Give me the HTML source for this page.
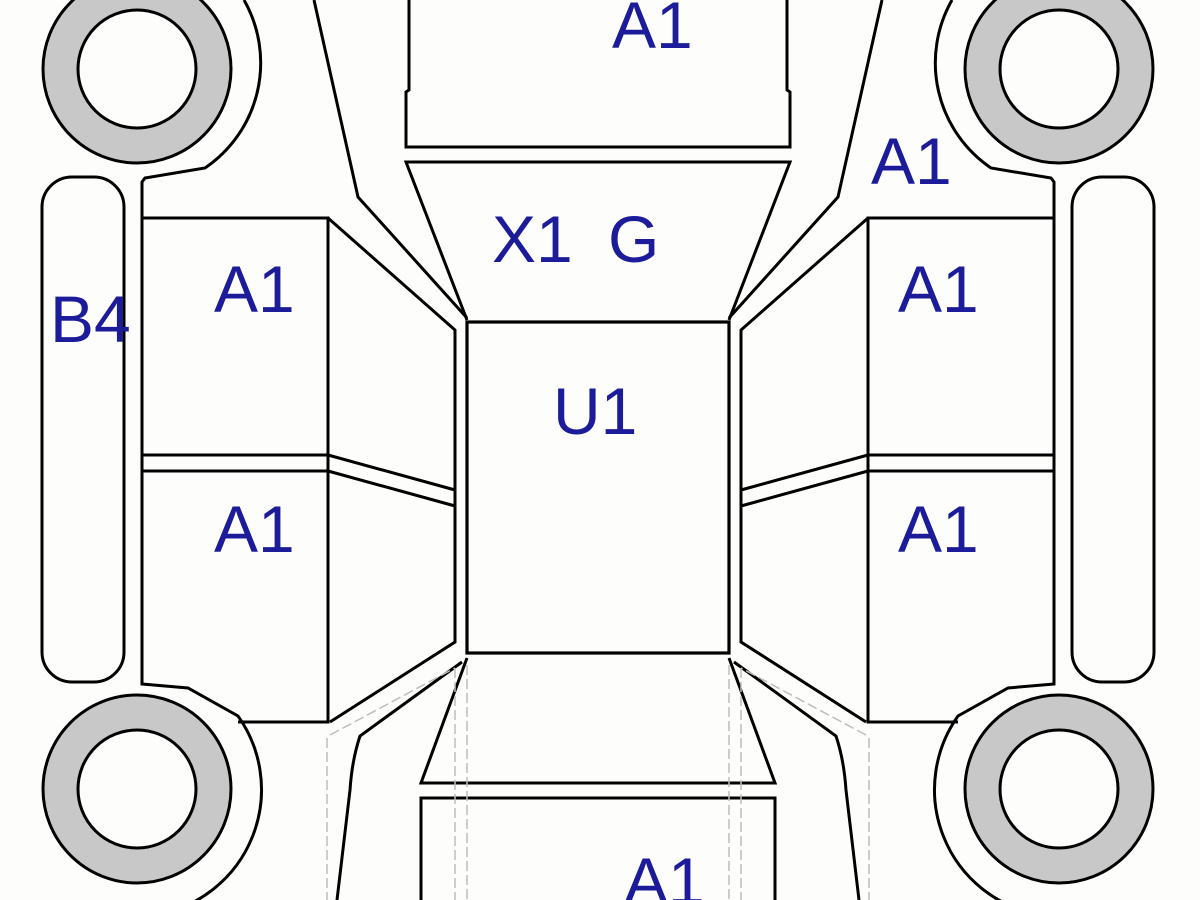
<!DOCTYPE html>
<html><head><meta charset="utf-8"><style>
html,body{margin:0;padding:0;background:#fdfefb;width:1200px;height:900px;overflow:hidden;}
svg{display:block}
text{font-family:"Liberation Sans",Arial,sans-serif;font-size:66px;fill:#1c1c9a;}
</style></head><body>
<svg width="1200" height="900" viewBox="0 0 1200 900" xmlns="http://www.w3.org/2000/svg">
<defs>
<g id="half" fill="none" stroke="#000" stroke-width="3">
  <circle cx="137" cy="69" r="76.5" stroke="#c8c8c8" stroke-width="35"/>
  <circle cx="137" cy="69" r="94"/>
  <circle cx="137" cy="69" r="59" fill="#fdfefb"/>
  <circle cx="137" cy="789" r="76.5" stroke="#c8c8c8" stroke-width="35"/>
  <circle cx="137" cy="789" r="94"/>
  <circle cx="137" cy="789" r="59" fill="#fdfefb"/>
  <path d="M244,0 A127,127 0 0 1 205,168 L145,178 L142,182 L142,684 L188,688 L238,716 A127,127 0 0 1 160,914"/>
  <rect x="42" y="177" width="82" height="505" rx="30"/>
  <path d="M142,218 L328,218 L328,722 L238,722"/>
  <path d="M142,455 L328,455 M142,471 L328,471"/>
  <path d="M328,218 L455,330 L455,642 L330,722"/>
  <path d="M328,455 L455,490 M328,471 L455,506"/>
  <path d="M314,0 L358,197 L467,318"/>
  <path d="M462,662 L360,736 Q352,760 350,790 L337,900"/>
  <path d="M467,658 L421,783 L598,783"/>
  <path d="M421,900 L421,798 L598,798"/>
  <path d="M409,0 L409,90 L406,92 L406,147 L598,147"/>
  <path d="M598,162 L406,162 L467,320"/>
  <g stroke="#bdbdbd" stroke-width="1.5" stroke-dasharray="10,4">
    <path d="M327,738 L327,900 M455,668 L455,900 M467,665 L467,900 M330,735 L455,668"/>
  </g>
</g>
</defs>
<use href="#half"/>
<use href="#half" transform="translate(1196,0) scale(-1,1)"/>
<rect x="467" y="322" width="262" height="331" fill="none" stroke="#000" stroke-width="3.2"/>
<text x="612" y="48">A1</text>
<text x="871" y="184">A1</text>
<text x="492" y="262">X1</text>
<text x="608" y="262">G</text>
<text x="553" y="434">U1</text>
<text x="214" y="312">A1</text>
<text x="214" y="552">A1</text>
<text x="898" y="312">A1</text>
<text x="898" y="552">A1</text>
<text x="50" y="342">B4</text>
<text x="624" y="904">A1</text>
</svg>
</body></html>
